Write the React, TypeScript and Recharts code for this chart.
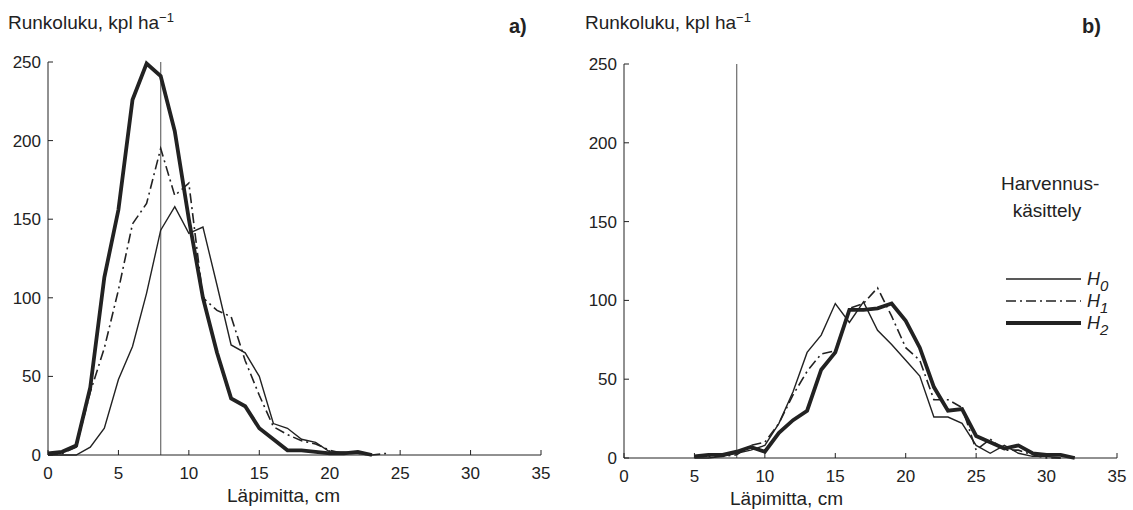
import React from 'react';
import { LineChart, Line, XAxis, YAxis, ReferenceLine, Legend } from 'recharts';

// diameter classes (cm) and stem counts (kpl/ha) per thinning treatment
const diameterA = [0, 1, 2, 3, 4, 5, 6, 7, 8, 9, 10, 11, 12, 13, 14, 15, 16, 17, 18, 19, 20, 21, 22, 23, 24];
const h0A = [0, 0, 0, 5, 17, 48, 69, 103, 143, 158, 141, 145, 108, 70, 65, 50, 20, 17, 10, 8, 2, 2, 1, 0, null];
const h1A = [0, 1, 5, 40, 68, 105, 147, 160, 195, 165, 173, 100, 92, 88, 60, 38, 18, 13, 9, 7, 3, 1, 1, 0, 1];
const h2A = [1, 2, 6, 43, 113, 156, 226, 249, 241, 206, 150, 100, 65, 36, 31, 17, 10, 3, 3, 2, 1, 1, 2, 0, null];

const diameterB = [5, 6, 7, 8, 9, 10, 11, 12, 13, 14, 15, 16, 17, 18, 19, 20, 21, 22, 23, 24, 25, 26, 27, 28, 29, 30, 31, 32];
const h0B = [0, 0, 1, 3, 5, 8, 22, 42, 67, 78, 98, 86, 99, 81, 72, 62, 52, 26, 26, 22, 8, 3, 8, 3, 1, 1, 0, null];
const h1B = [1, 1, 1, 2, 8, 10, 22, 40, 55, 66, 68, 95, 98, 108, 90, 70, 62, 37, 37, 32, 5, 12, 5, 5, 2, 0, 0, null];
const h2B = [1, 2, 2, 4, 7, 4, 16, 24, 30, 56, 67, 94, 94, 95, 98, 87, 70, 45, 30, 31, 14, 10, 6, 8, 3, 2, 2, 0];

const xTicks = [0, 5, 10, 15, 20, 25, 30, 35];
const yTicks = [0, 50, 100, 150, 200, 250];
const thinningLimit = 8;

const seriesNames = ['H0', 'H1', 'H2'];

const FONT = '"Liberation Sans", Arial, sans-serif';
const INK = '#222';

const toRows = (xs: number[], a: (number | null)[], b: (number | null)[], c: (number | null)[]) =>
  xs.map((d, i) => ({ d, H0: a[i], H1: b[i], H2: c[i] }));

const rowsA = toRows(diameterA, h0A, h1A, h2A);
const rowsB = toRows(diameterB, h0B, h1B, h2B);

const lineStyle: Record<string, any> = {
  H0: { strokeWidth: 1.4 },
  H1: { strokeWidth: 1.6, strokeDasharray: '10 4 2 4' },
  H2: { strokeWidth: 3.8 },
};

const LegendBox = () => (
  <div style={{ fontFamily: FONT, color: INK, width: 130 }}>
    <div style={{ width: 92, textAlign: 'center', fontSize: 19, lineHeight: '27px' }}>
      Harvennus-<br />käsittely
    </div>
    <svg width={130} height={80} style={{ marginTop: 45, display: 'block' }}>
      {seriesNames.map((name, i) => (
        <g key={name} transform={`translate(0, ${10 + i * 22})`}>
          <line x1={5} x2={80} y1={0} y2={0} stroke={INK} {...lineStyle[name]} />
          <text x={86} y={6} fontSize={18} fontStyle="italic" fill={INK}>
            H
            <tspan fontSize={15} dy={6}>{name[1]}</tspan>
          </text>
        </g>
      ))}
    </svg>
  </div>
);

const Panel = ({ rows, width, margin, legend, labelShift }: any) => (
  <LineChart width={width} height={510} data={rows} margin={margin}>
    <XAxis
      dataKey="d"
      type="number"
      domain={[0, 35]}
      ticks={xTicks}
      interval={0}
      stroke={INK}
      tickSize={-5}
      tickMargin={17}
      tick={{ fill: INK, fontSize: 17, fontFamily: FONT }}
      height={30}
      label={{ value: 'Läpimitta, cm', position: 'bottom', offset: 4, dx: labelShift, fill: INK, fontSize: 19, fontFamily: FONT }}
    />
    <YAxis
      type="number"
      domain={[0, 250]}
      ticks={yTicks}
      interval={0}
      stroke={INK}
      tickSize={-5}
      tickMargin={12}
      tick={{ fill: INK, fontSize: 17, fontFamily: FONT }}
      width={48}
    />
    <ReferenceLine x={thinningLimit} stroke="#777" strokeWidth={1.3} />
    {seriesNames.map(name => (
      <Line
        key={name}
        dataKey={name}
        type="linear"
        stroke={INK}
        dot={false}
        isAnimationActive={false}
        connectNulls={false}
        {...lineStyle[name]}
      />
    ))}
    {legend && (
      <Legend
        layout="horizontal"
        verticalAlign="middle"
        align="center"
        content={() => <LegendBox />}
        wrapperStyle={{ top: 170, left: 425, width: 130 }}
      />
    )}
  </LineChart>
);

const Title = ({ left }: { left: number }) => (
  <div style={{ position: 'absolute', left, top: 10, fontFamily: FONT, fontSize: 19, color: INK }}>
    Runkoluku, kpl ha<sup style={{ fontSize: 13 }}>−1</sup>
  </div>
);

const Tag = ({ left, text }: { left: number; text: string }) => (
  <div style={{ position: 'absolute', left, top: 15, fontFamily: FONT, fontSize: 20, fontWeight: 'bold', color: INK }}>
    {text}
  </div>
);

export default function App() {
  return (
    <div style={{ position: 'absolute', left: 0, top: 0, width: 1133, height: 510, background: '#fff' }}>
      <Title left={8} />
      <Title left={585} />
      <Tag left={509} text="a)" />
      <Tag left={1082} text="b)" />
      <div style={{ position: 'absolute', left: 0, top: 0 }}>
        <Panel rows={rowsA} width={560} margin={{ top: 62, right: 19, bottom: 25, left: 0 }} labelShift={-11} />
      </div>
      <div style={{ position: 'absolute', left: 576, top: 0 }}>
        <Panel rows={rowsB} width={557} margin={{ top: 64, right: 16, bottom: 22, left: 0 }} labelShift={-84} legend />
      </div>
    </div>
  );
}
